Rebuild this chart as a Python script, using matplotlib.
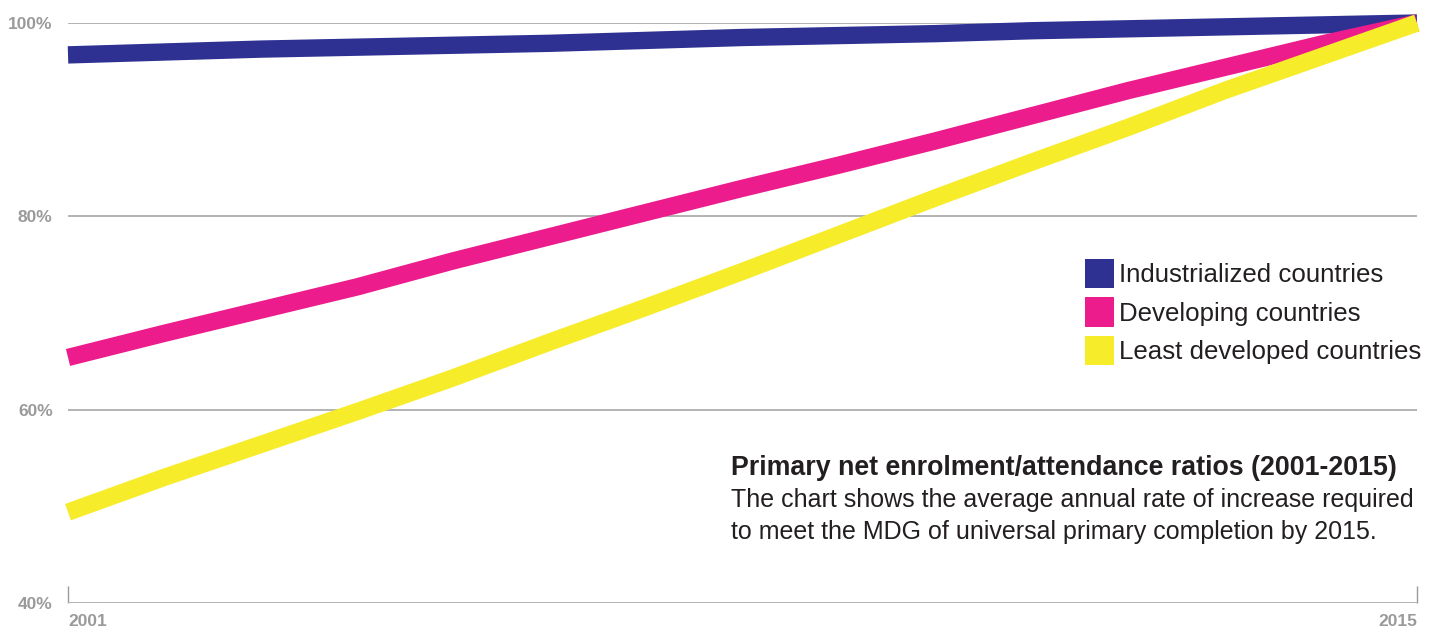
import matplotlib.pyplot as plt
from matplotlib.patches import Patch

years = list(range(2001, 2016))
industrialized = [96.7, 97.0, 97.3, 97.5, 97.7, 97.9, 98.2, 98.5, 98.7, 98.9, 99.2, 99.4, 99.6, 99.8, 100.0]
developing = [65.4, 67.9, 70.3, 72.7, 75.4, 77.9, 80.4, 82.9, 85.3, 87.8, 90.4, 93.0, 95.4, 97.8, 100.0]
least_developed = [49.4, 53.0, 56.4, 59.8, 63.3, 67.0, 70.6, 74.3, 78.1, 81.9, 85.6, 89.2, 93.0, 96.5, 100.0]

series_names = ['Industrialized countries', 'Developing countries', 'Least developed countries']
colors = ['#2E3192', '#EC1C8C', '#F7EC2A']
yticks = [40, 60, 80, 100]
ytick_labels = ['40%', '60%', '80%', '100%']

plt.rcParams['font.family'] = ['Liberation Sans', 'DejaVu Sans']

fig = plt.figure(figsize=(14.38, 6.35), dpi=100)
ax = fig.add_axes([68 / 1438, 1 - 603 / 635, (1417 - 68) / 1438, (603 - 23) / 635])
ax.set_xlim(2001, 2015)
ax.set_ylim(40, 100)

for vals, c in zip([industrialized, developing, least_developed], colors):
    ax.plot(years, vals, color=c, lw=12.5, solid_capstyle='butt', solid_joinstyle='miter',
            clip_on=False, zorder=3)

# grid lines
for spine in ax.spines.values():
    spine.set_visible(False)
ax.set_yticks(yticks)
ax.set_yticklabels(ytick_labels)
ax.yaxis.grid(True, color='#b3b3b3', lw=1.4)
ax.set_axisbelow(True)
ax.tick_params(axis='y', length=0, pad=11, labelsize=12.5, labelcolor='#9a9a9a')
for t in ax.get_yticklabels():
    t.set_fontweight('bold')

ax.set_xticks([2001, 2015])
ax.set_xticklabels(['2001', '2015'])
ax.tick_params(axis='x', direction='in', length=12, width=1, color='#9a9a9a',
               pad=8, labelsize=12.5, labelcolor='#9a9a9a')
xl = ax.get_xticklabels()
xl[0].set_ha('left')
xl[1].set_ha('right')
for t in xl:
    t.set_fontweight('bold')

handles = [Patch(facecolor=c, edgecolor='none') for c in colors]
leg = fig.legend(handles, series_names, loc='upper left', bbox_to_anchor=(1085 / 1438, 1 - 259 / 635),
                 frameon=False, fontsize=18.6, handlelength=1.13, handleheight=1.36,
                 handletextpad=0.2, labelspacing=0.36, borderpad=0, borderaxespad=0)
for t in leg.get_texts():
    t.set_color('#231F20')

fig.text(731 / 1438, 1 - 475 / 635, 'Primary net enrolment/attendance ratios (2001-2015)',
         fontsize=19.3, fontweight='bold', color='#231F20', va='baseline')
fig.text(731 / 1438, 1 - 507 / 635, 'The chart shows the average annual rate of increase required',
         fontsize=18, color='#231F20', va='baseline')
fig.text(731 / 1438, 1 - 539 / 635, 'to meet the MDG of universal primary completion by 2015.',
         fontsize=18, color='#231F20', va='baseline')

fig.savefig('out.png', dpi=100)
